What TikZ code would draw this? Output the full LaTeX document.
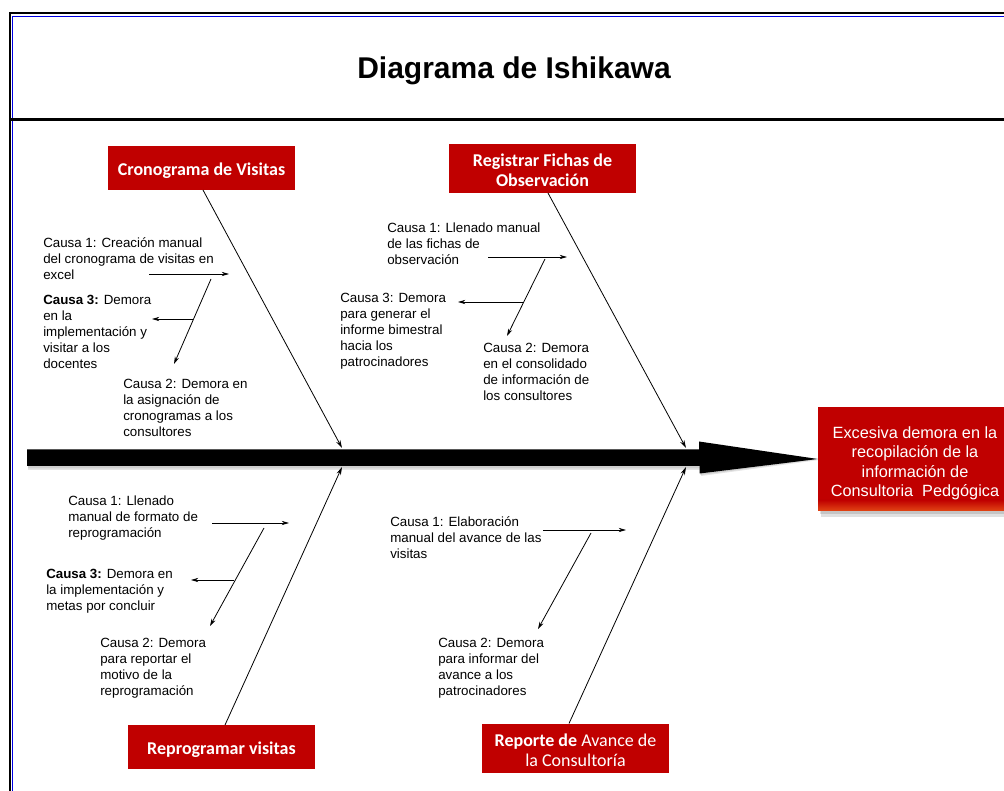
\documentclass[tikz,border=0pt]{standalone}
\usepackage{fontspec}
\setmainfont{Liberation Sans}
\newfontfamily\boxfont{Carlito}
\usetikzlibrary{arrows.meta}
\definecolor{ishred}{RGB}{192,0,0}
\definecolor{frameblue}{RGB}{0,0,225}
\definecolor{glowred}{RGB}{226,70,20}

\tikzset{
  cause/.style={font=\fontsize{10}{12}\selectfont, align=left, anchor=north west,
    inner sep=0pt, execute at begin node=\strut},
  catbox/.style={fill=ishred, inner sep=0pt, minimum width=140.25pt},
  cattext/.style={text=white, inner sep=0pt, align=center,
    font=\boxfont\fontsize{13.5}{15}\selectfont\bfseries},
  bone/.style={line width=0.6pt, -{Stealth[length=6pt,width=3.4pt]}},
  twig/.style={line width=0.6pt, -{Stealth[length=5.5pt,width=3.2pt]}},
}

\begin{document}
\begin{tikzpicture}[x=0.75pt,y=-0.75pt]
\useasboundingbox (0,0) rectangle (1004,791);

% page frame and title band
\draw[black, line width=1.5pt] (10,791) -- (10,13.5) -- (1004,13.5);
\draw[frameblue, line width=0.9pt] (12.7,791) -- (12.7,16.3) -- (1004,16.3);
\draw[black, line width=1.9pt] (11,119.5) -- (1004,119.5);
\node[anchor=base, inner sep=0pt, font=\fontsize{22.5}{27}\selectfont\bfseries] (title) at (514,79) {Diagrama de Ishikawa};

% effect box with its shadow
\fill[black, opacity=0.12] (821,411) rectangle (1016,517);
\fill[black, opacity=0.12] (820,410) rectangle (1014,514);
\node[fill=ishred, minimum width=145.5pt, minimum height=78pt, inner sep=0pt] (effect) at (915,459) {};
\shade[top color=ishred, bottom color=glowred] (818,500) rectangle (1012,511);
\node[text=white, align=center, inner sep=0pt, font=\fontsize{12.2}{14.6}\selectfont] (effecttext) at (915,463.5)
  {Excesiva demora en la\\recopilación de la\\información de\\Consultoria\ \ Pedgógica};

% spine: shadow, shaft and head
\fill[black, opacity=0.10] (28,452) -- (701,452) -- (701,444) -- (819,460) -- (701,476) -- (701,470) -- (28,470) -- cycle;
\fill[black, opacity=0.10] (28,451) -- (700,451) -- (700,443) -- (819,459) -- (700,475) -- (700,468.5) -- (28,468.5) -- cycle;
\coordinate (tail) at (27,457.5);
\fill[black] (27,449.5) -- (699,449.5) -- (699,441.5) -- (effect.west) -- (699.5,473.5) -- (699.5,466) -- (27,466) -- cycle;

% category boxes
\node[catbox, minimum height=33pt] (crono) at (201.5,168) {};
\node[catbox, minimum height=36.75pt] (fichas) at (542.5,168.5) {};
\node[catbox, minimum height=33pt] (reprog) at (221.5,747) {};
\node[catbox, minimum height=36.75pt] (reporte) at (575.5,748.5) {};
\node[cattext] (cronot) at ([yshift=-2.2pt]crono.center) {Cronograma de Visitas};
\node[cattext] (fichast) at ([yshift=-1.6pt]fichas.center) {Registrar Fichas de\\Observación};
\node[cattext] (reprogt) at ([yshift=-2.2pt]reprog.center) {Reprogramar visitas};
\node[cattext] (reportet) at ([yshift=-1.6pt]reporte.center) {Reporte de \mdseries Avance de\\\mdseries la Consultoría};

% bone end points
\coordinate (Ab) at (203,190);   \coordinate (At) at (342,448);
\coordinate (Bb) at (548,193);   \coordinate (Bt) at (686,448);
\coordinate (Cb) at (225,725);   \coordinate (Ct) at (342,467);
\coordinate (Db) at (569,723.5); \coordinate (Dt) at (686,467);

\draw[bone] (Ab) -- (At);
\draw[bone] (Bb) -- (Bt);
\draw[bone] (Cb) -- (Ct);
\draw[bone] (Db) -- (Dt);

% Cronograma de Visitas
\coordinate (A1s) at (149,274); \coordinate (A1e) at (229,274);
\coordinate (A2s) at (211,279); \coordinate (A2e) at (174,364);
\coordinate (A3s) at (193,319); \coordinate (A3e) at (152,319);
\draw[twig] (A1s) -- (A1e);
\draw[twig] (A2s) -- (A2e);
\draw[twig] (A3s) -- (A3e);
\node[cause] (a1) at (43,237.5) {Causa 1: Creación manual\\del cronograma de visitas en\\excel};
\node[cause] (a3) at (43,294.5) {\textbf{Causa 3:} Demora\\en la\\implementación y\\visitar a los\\docentes};
\node[cause] (a2) at (123,378.5) {Causa 2: Demora en\\la asignación de\\cronogramas a los\\consultores};

% Registrar Fichas de Observación
\coordinate (B1s) at (488,257); \coordinate (B1e) at (567,257);
\coordinate (B2s) at (545,259); \coordinate (B2e) at (507,336);
\coordinate (B3s) at (524,302); \coordinate (B3e) at (458,302);
\draw[twig] (B1s) -- (B1e);
\draw[twig] (B2s) -- (B2e);
\draw[twig] (B3s) -- (B3e);
\node[cause] (b1) at (387,222.5) {Causa 1: Llenado manual\\de las fichas de\\observación};
\node[cause] (b3) at (340,292.5) {Causa 3: Demora\\para generar el\\informe bimestral\\hacia los\\patrocinadores};
\node[cause] (b2) at (483,342.5) {Causa 2: Demora\\en el consolidado\\de información de\\los consultores};

% Reprogramar visitas
\coordinate (C1s) at (212,523); \coordinate (C1e) at (289,523);
\coordinate (C2s) at (264,528); \coordinate (C2e) at (210,626);
\coordinate (C3s) at (234,580); \coordinate (C3e) at (191,580);
\draw[twig] (C1s) -- (C1e);
\draw[twig] (C2s) -- (C2e);
\draw[twig] (C3s) -- (C3e);
\node[cause] (c1) at (68,495.5) {Causa 1: Llenado\\manual de formato de\\reprogramación};
\node[cause] (c3) at (46,568.5) {\textbf{Causa 3:} Demora en\\la implementación y\\metas por concluir};
\node[cause] (c2) at (100,637.5) {Causa 2: Demora\\para reportar el\\motivo de la\\reprogramación};

% Reporte de Avance de la Consultoria
\coordinate (D1s) at (543,530); \coordinate (D1e) at (626,530);
\coordinate (D2s) at (591,533); \coordinate (D2e) at (538,629);
\draw[twig] (D1s) -- (D1e);
\draw[twig] (D2s) -- (D2e);
\node[cause] (d1) at (390,516.5) {Causa 1: Elaboración\\manual del avance de las\\visitas};
\node[cause] (d2) at (438,637.5) {Causa 2: Demora\\para informar del\\avance a los\\patrocinadores};

\end{tikzpicture}
\end{document}
